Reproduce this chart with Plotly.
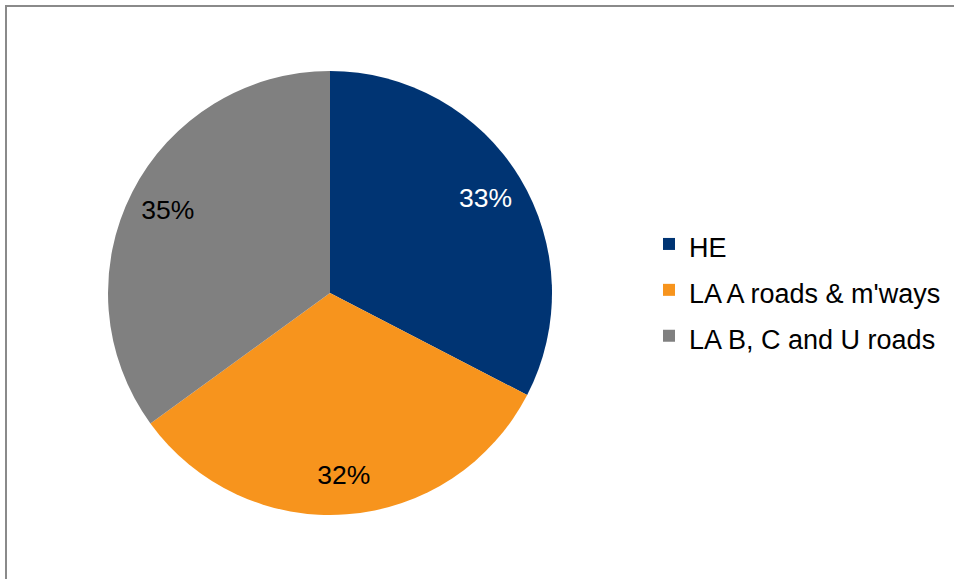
import plotly.graph_objects as go

# road network shares (percent)
labels = ["HE", "LA A roads & m'ways", "LA B, C and U roads"]
values = [32.6, 32.4, 35.0]
colors = ["#003473", "#F7941D", "#808080"]
text_colors = ["white", "black", "black"]

W, H = 954, 579
FONT = "Liberation Sans, Arial, sans-serif"
dom = dict(x=[108 / W, 552 / W], y=[1 - 515 / H, 1 - 71 / H])

fig = go.Figure()
# coloured slices + legend
fig.add_trace(
    go.Pie(
        labels=[f'<span style="font-size:27px">{l}</span>' for l in labels],
        values=values,
        sort=False,
        direction="clockwise",
        rotation=0,
        marker=dict(colors=colors, line=dict(width=0)),
        textinfo="none",
        domain=dom,
        hoverinfo="label+percent",
    )
)
# transparent ring on top, only to push the % labels outwards
fig.add_trace(
    go.Pie(
        labels=labels,
        values=values,
        sort=False,
        direction="clockwise",
        rotation=0,
        hole=0.64,
        marker=dict(colors=["rgba(0,0,0,0)"] * 3, line=dict(width=0)),
        texttemplate="%{percent:.0%}",
        textposition="inside",
        insidetextorientation="horizontal",
        textfont=dict(size=26.5, color=text_colors, family=FONT),
        domain=dom,
        showlegend=False,
        hoverinfo="skip",
    )
)

fig.update_layout(
    width=W,
    height=H,
    margin=dict(l=0, r=0, t=0, b=0),
    paper_bgcolor="white",
    font=dict(family=FONT, color="black"),
    legend=dict(
        x=649 / W,
        y=1 - 290 / H,
        xanchor="left",
        yanchor="middle",
        font=dict(size=33, family=FONT),
        bgcolor="rgba(0,0,0,0)",
    ),
    shapes=[
        dict(
            type="rect",
            xref="paper",
            yref="paper",
            x0=6 / W,
            x1=1.1,
            y0=-0.1,
            y1=1 - 6 / H,
            line=dict(color="#8A8A8A", width=2),
        )
    ],
)

fig.write_html(
    "out.html",
    config={"displayModeBar": False},
    post_script="document.body.style.margin='0';",
)
